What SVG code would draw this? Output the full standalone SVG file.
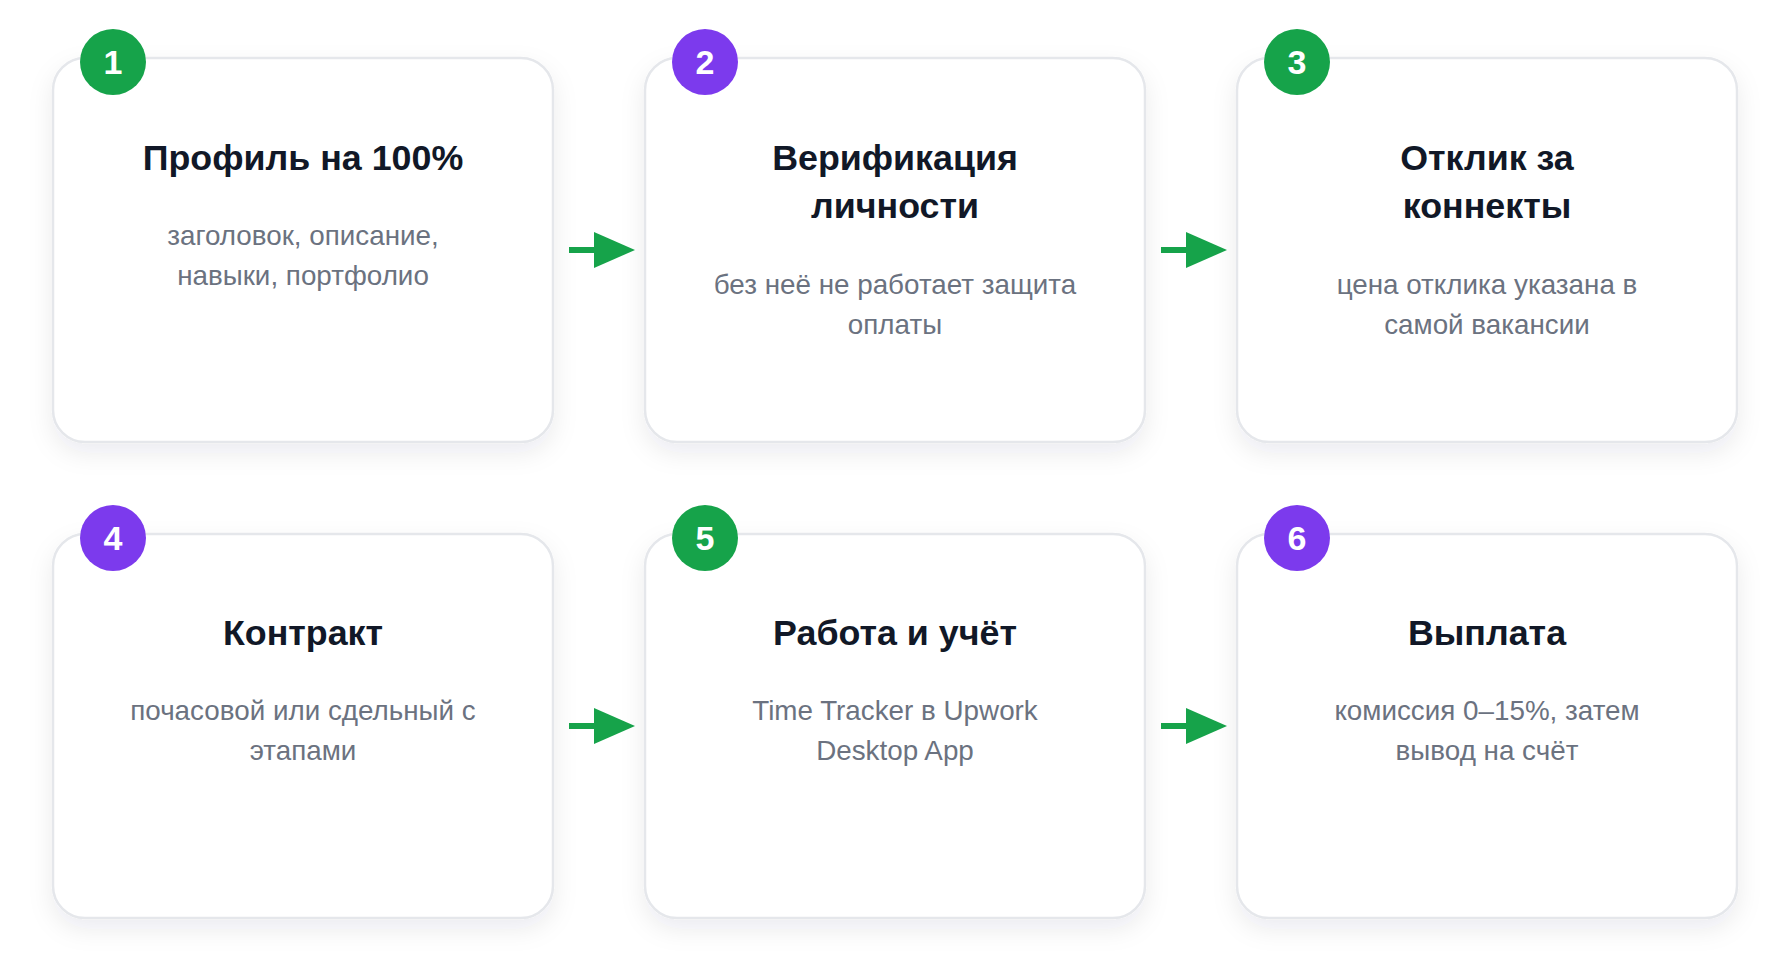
<svg xmlns="http://www.w3.org/2000/svg" width="1790" height="977" viewBox="0 0 1790 977">
<defs>
<filter id="sh" x="-20%" y="-20%" width="140%" height="150%">
<feDropShadow dx="0" dy="10" stdDeviation="12" flood-color="#1e293b" flood-opacity="0.08"/>
</filter>
<marker id="ah" viewBox="0 0 41 36" refX="0" refY="18" markerWidth="41" markerHeight="36" markerUnits="userSpaceOnUse" orient="auto">
<path d="M0,0 L41,18 L0,36 Z" fill="#16a34a"/>
</marker>
</defs>
<style>
.card{fill:#ffffff;stroke:#e5e7eb;stroke-width:2.5}
.t{font-family:"Liberation Sans",Arial,sans-serif;font-weight:bold;font-size:35.8px;fill:#111827;text-anchor:middle}
.s{font-family:"Liberation Sans",Arial,sans-serif;font-size:27.8px;fill:#6b7280;text-anchor:middle}
.bn{font-family:"Liberation Sans",Arial,sans-serif;font-weight:bold;font-size:34px;fill:#ffffff;text-anchor:middle}
.g{fill:#16a34a}
.p{fill:#7c3aed}
.c{stroke:#16a34a;stroke-width:6;fill:none}
</style>
<rect width="1790" height="977" fill="#ffffff"/>
<g id="connectors">
<line class="c" x1="569" y1="250" x2="594" y2="250" marker-end="url(#ah)"/>
<line class="c" x1="1161" y1="250" x2="1186" y2="250" marker-end="url(#ah)"/>
<line class="c" x1="569" y1="726" x2="594" y2="726" marker-end="url(#ah)"/>
<line class="c" x1="1161" y1="726" x2="1186" y2="726" marker-end="url(#ah)"/>
</g>
<g id="step1">
<rect class="card" x="53" y="58" width="500" height="384" rx="32" filter="url(#sh)"/>
<circle class="g" cx="113" cy="62" r="33"/>
<text class="bn" x="113" y="74">1</text>
<text class="t" x="303" y="170">Профиль на 100%</text>
<text class="s" x="303" y="245">заголовок, описание,</text>
<text class="s" x="303" y="285">навыки, портфолио</text>
</g>
<g id="step2">
<rect class="card" x="645" y="58" width="500" height="384" rx="32" filter="url(#sh)"/>
<circle class="p" cx="705" cy="62" r="33"/>
<text class="bn" x="705" y="74">2</text>
<text class="t" x="895" y="170">Верификация</text>
<text class="t" x="895" y="218">личности</text>
<text class="s" x="895" y="294">без неё не работает защита</text>
<text class="s" x="895" y="334">оплаты</text>
</g>
<g id="step3">
<rect class="card" x="1237" y="58" width="500" height="384" rx="32" filter="url(#sh)"/>
<circle class="g" cx="1297" cy="62" r="33"/>
<text class="bn" x="1297" y="74">3</text>
<text class="t" x="1487" y="170">Отклик за</text>
<text class="t" x="1487" y="218">коннекты</text>
<text class="s" x="1487" y="294">цена отклика указана в</text>
<text class="s" x="1487" y="334">самой вакансии</text>
</g>
<g id="step4">
<rect class="card" x="53" y="534" width="500" height="384" rx="32" filter="url(#sh)"/>
<circle class="p" cx="113" cy="538" r="33"/>
<text class="bn" x="113" y="550">4</text>
<text class="t" x="303" y="645">Контракт</text>
<text class="s" x="303" y="720">почасовой или сдельный с</text>
<text class="s" x="303" y="760">этапами</text>
</g>
<g id="step5">
<rect class="card" x="645" y="534" width="500" height="384" rx="32" filter="url(#sh)"/>
<circle class="g" cx="705" cy="538" r="33"/>
<text class="bn" x="705" y="550">5</text>
<text class="t" x="895" y="645">Работа и учёт</text>
<text class="s" x="895" y="720">Time Tracker в Upwork</text>
<text class="s" x="895" y="760">Desktop App</text>
</g>
<g id="step6">
<rect class="card" x="1237" y="534" width="500" height="384" rx="32" filter="url(#sh)"/>
<circle class="p" cx="1297" cy="538" r="33"/>
<text class="bn" x="1297" y="550">6</text>
<text class="t" x="1487" y="645">Выплата</text>
<text class="s" x="1487" y="720">комиссия 0–15%, затем</text>
<text class="s" x="1487" y="760">вывод на счёт</text>
</g>
</svg>
